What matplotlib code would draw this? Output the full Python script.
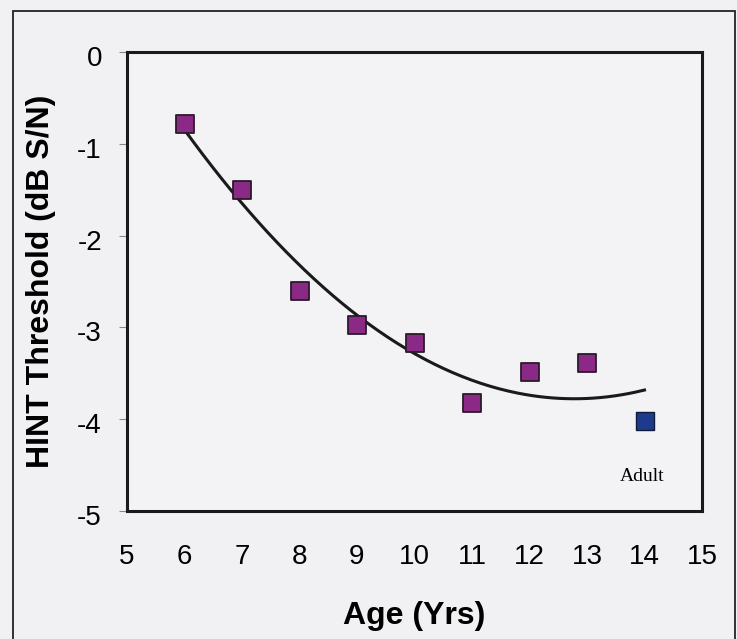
import numpy as np
import matplotlib
matplotlib.use("Agg")
import matplotlib.pyplot as plt
import matplotlib.transforms as mtransforms
from matplotlib.patches import Rectangle

# child data (age in years) and adult point
ages = [6, 7, 8, 9, 10, 11, 12, 13]
thresholds = [-0.78, -1.50, -2.60, -2.97, -3.17, -3.82, -3.49, -3.39]
adult_age = [14]
adult_threshold = [-4.02]

x_ticks = list(range(5, 16))
y_ticks = [0, -1, -2, -3, -4, -5]

plt.rcParams["font.family"] = ["Liberation Sans", "DejaVu Sans"]
plt.rcParams["axes.unicode_minus"] = False

fig = plt.figure(figsize=(7.37, 6.39), dpi=100)
fig.patch.set_facecolor("#f1f1f3")
ax = fig.add_axes([127 / 737, 1 - 511 / 639, 575 / 737, 459 / 639])
ax.set_facecolor("#f3f3f5")

# outer frame of the figure (bottom edge runs off the picture)
fig.patches.append(Rectangle((13 / 737, -0.05), 722 / 737, 1 - 11 / 639 + 0.05,
                             transform=fig.transFigure, fill=False,
                             edgecolor="#222222", linewidth=1.3))

# 2nd order trend line through all points (children + adult)
fit_x = ages + adult_age
fit_y = thresholds + adult_threshold
coef = np.polyfit(fit_x, fit_y, 2)
xs = np.linspace(6, 14, 200)
ax.plot(xs, np.polyval(coef, xs), color="#1a1a1a", linewidth=2.2, zorder=2)

ax.scatter(ages, thresholds, marker="s", s=150, color="#8a2a86",
           edgecolors="#2a1a2a", linewidths=1.3, zorder=3)
ax.scatter(adult_age, adult_threshold, marker="s", s=150, color="#1e3a8a",
           edgecolors="#101a3a", linewidths=1.0, zorder=3)

ax.text(13.95, -4.62, "Adult", family=["Liberation Serif", "DejaVu Serif"],
        fontsize=14, ha="center", va="center")

ax.set_xlim(5, 15)
ax.set_ylim(-5, 0)
ax.set_xticks(x_ticks)
ax.set_yticks(y_ticks)
ax.tick_params(axis="x", length=0, pad=24, labelsize=20)
ax.tick_params(axis="y", length=6, width=0.8, pad=12, labelsize=20,
               color="#888888")
# labels sit a little below their ticks, as in the scan
shift = mtransforms.ScaledTranslation(0, -4 / 100, fig.dpi_scale_trans)
for lab in ax.get_yticklabels():
    lab.set_transform(lab.get_transform() + shift)
for s in ax.spines.values():
    s.set_linewidth(2.2)
    s.set_color("#1a1a1a")

ax.set_xlabel("Age (Yrs)", fontsize=23, fontweight="bold", labelpad=22)
ax.set_ylabel("HINT Threshold (dB S/N)", fontsize=23, fontweight="bold",
              labelpad=15)

fig.savefig("out.png", dpi=100, facecolor=fig.get_facecolor())
